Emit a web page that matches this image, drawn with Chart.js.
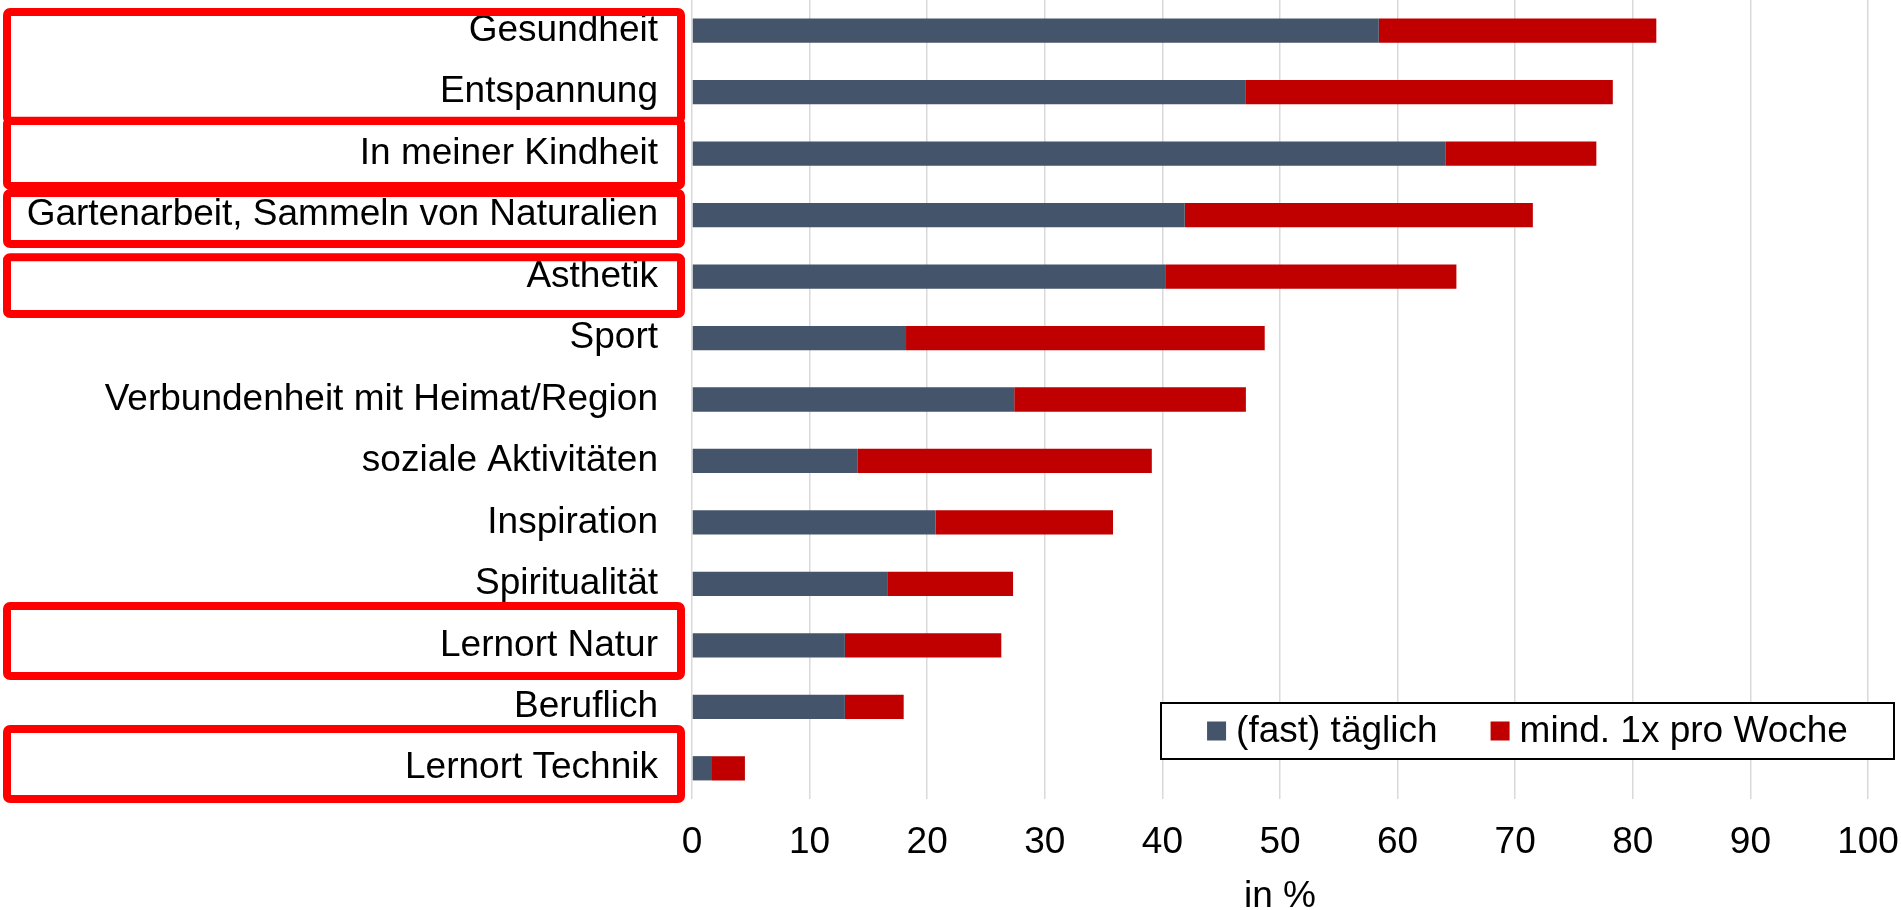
<!DOCTYPE html>
<html lang="de">
<head>
<meta charset="utf-8">
<title>Motive Naturbesuch</title>
<script src="https://cdn.jsdelivr.net/npm/chart.js@4.4.1/dist/chart.umd.min.js"></script>
<style>
    html, body { margin: 0; padding: 0; background: #ffffff; overflow: hidden; }
    #wrap { position: relative; width: 1901px; height: 910px; }
</style>
</head>
<body>
<div id="wrap"><canvas id="chart-motive"></canvas></div>
<script>
// Kategorien (von oben nach unten)
const categories = [
    "Gesundheit",
    "Entspannung",
    "In meiner Kindheit",
    "Gartenarbeit, Sammeln von Naturalien",
    "Asthetik",
    "Sport",
    "Verbundenheit mit Heimat/Region",
    "soziale Aktivitäten",
    "Inspiration",
    "Spiritualität",
    "Lernort Natur",
    "Beruflich",
    "Lernort Technik"
];

// Anteile in %
const dailyValues  = [58.4, 47.1, 64.1, 41.9, 40.3, 18.2, 27.4, 14.1, 20.7, 16.6, 13.0, 13.0, 1.7];
const weeklyValues = [23.6, 31.2, 12.8, 29.6, 24.7, 30.5, 19.7, 25.0, 15.1, 10.7, 13.3, 5.0, 2.8];

const seriesLabels = ["(fast) täglich", "mind. 1x pro Woche"];
const xTickValues = [0, 10, 20, 30, 40, 50, 60, 70, 80, 90, 100];
const axisTitle = "in %";

const FONT = "'Liberation Sans', Arial, sans-serif";
const FONT_SIZE = 37;
const colorDaily = "#44546A";
const colorWeekly = "#C00000";

// Rote Markierungen um einzelne Beschriftungen
const highlightPlugin = {
    id: "highlights",
    afterDraw(chart, args, opts) {
        const ctx = chart.ctx;
        const y = chart.scales.y;
        const band = (y.bottom - y.top) / categories.length;
        const lw = opts.lineWidth;
        const left = opts.left;
        const right = chart.chartArea.left - opts.gapRight;
        ctx.save();
        ctx.strokeStyle = opts.color;
        ctx.lineWidth = lw;
        ctx.lineJoin = "round";
        opts.boxes.forEach(b => {
            const top = y.getPixelForValue(categories.indexOf(b.from)) + b.top * band;
            const bottom = y.getPixelForValue(categories.indexOf(b.to)) + b.bottom * band;
            ctx.beginPath();
            ctx.roundRect(left + lw / 2, top + lw / 2, right - left - lw, bottom - top - lw, 3);
            ctx.stroke();
        });
        ctx.restore();
    }
};

// Legende mit Rahmen innerhalb der Zeichenfläche
const boxLegendPlugin = {
    id: "boxLegend",
    afterDatasetsDraw(chart, args, opts) {
        const ctx = chart.ctx;
        const area = chart.chartArea;
        ctx.save();
        ctx.font = `${FONT_SIZE}px ${FONT}`;
        const items = chart.data.datasets.map(ds => ({
            label: ds.label,
            color: ds.backgroundColor,
            width: ctx.measureText(ds.label).width
        }));
        const box = opts.boxSize;
        const contentW = items.reduce((s, it) => s + box + opts.textGap + it.width, 0) + opts.itemGap * (items.length - 1);
        const right = area.right + opts.overRight;
        const left = right - opts.width;
        const bottom = area.bottom - opts.aboveBottom;
        const top = bottom - opts.height;

        ctx.fillStyle = "#ffffff";
        ctx.fillRect(left, top, right - left, bottom - top);
        ctx.strokeStyle = "#000000";
        ctx.lineWidth = 2;
        ctx.strokeRect(left, top, right - left, bottom - top);

        let x = left + (right - left - contentW) / 2;
        const cy = (top + bottom) / 2;
        ctx.textBaseline = "middle";
        ctx.textAlign = "left";
        items.forEach(it => {
            ctx.fillStyle = it.color;
            ctx.fillRect(x, cy - box / 2, box, box);
            x += box + opts.textGap;
            ctx.fillStyle = "#000000";
            ctx.fillText(it.label, x, cy + 1);
            x += it.width + opts.itemGap;
        });
        ctx.restore();
    }
};

const ctx = document.getElementById("chart-motive").getContext("2d");
new Chart(ctx, {
    type: "bar",
    data: {
        labels: categories,
        datasets: [
            {
                label: seriesLabels[0],
                data: dailyValues,
                backgroundColor: colorDaily,
                borderWidth: 0,
                categoryPercentage: 1.0,
                barPercentage: 0.395
            },
            {
                label: seriesLabels[1],
                data: weeklyValues,
                backgroundColor: colorWeekly,
                borderWidth: 0,
                categoryPercentage: 1.0,
                barPercentage: 0.395
            }
        ]
    },
    options: {
        indexAxis: "y",
        responsive: true,
        maintainAspectRatio: false,
        animation: false,
        layout: {
            autoPadding: false,
            padding: { top: 0, right: 33, bottom: 0, left: 0 }
        },
        plugins: {
            legend: { display: false },
            tooltip: { enabled: false },
            highlights: {
                color: "#FF0000",
                lineWidth: 8,
                left: 3,
                gapRight: 7,
                boxes: [
                    { from: "Gesundheit", to: "Entspannung", top: -0.37, bottom: 0.53 },
                    { from: "In meiner Kindheit", to: "In meiner Kindheit", top: -0.595, bottom: 0.59 },
                    { from: "Gartenarbeit, Sammeln von Naturalien", to: "Gartenarbeit, Sammeln von Naturalien", top: -0.425, bottom: 0.535 },
                    { from: "Asthetik", to: "Asthetik", top: -0.38, bottom: 0.675 },
                    { from: "Lernort Natur", to: "Lernort Natur", top: -0.705, bottom: 0.565 },
                    { from: "Lernort Technik", to: "Lernort Technik", top: -0.705, bottom: 0.565 }
                ]
            },
            boxLegend: {
                boxSize: 19,
                textGap: 10,
                itemGap: 53,
                width: 733,
                height: 56,
                overRight: 26,
                aboveBottom: 40
            }
        },
        scales: {
            x: {
                stacked: true,
                min: 0,
                max: 100,
                afterBuildTicks: scale => {
                    scale.ticks = xTickValues.map(v => ({ value: v }));
                },
                afterFit: scale => {
                    // feste Höhe, keine zusätzliche Randpolsterung durch die Beschriftungen
                    scale.height = 111;
                    scale.paddingLeft = 0;
                    scale.paddingRight = 0;
                },
                grid: {
                    color: "#D9D9D9",
                    lineWidth: 1.5,
                    drawTicks: false
                },
                border: { display: false },
                ticks: {
                    color: "#000000",
                    padding: 22,
                    maxRotation: 0,
                    font: { family: FONT, size: FONT_SIZE }
                },
                title: {
                    display: true,
                    text: axisTitle,
                    color: "#000000",
                    padding: { top: 0, bottom: -9 },
                    font: { family: FONT, size: FONT_SIZE }
                }
            },
            y: {
                stacked: true,
                afterFit: scale => {
                    scale.width = 692;
                    scale.paddingTop = 0;
                    scale.paddingBottom = 0;
                },
                grid: { display: false, drawTicks: false },
                border: { display: false },
                ticks: {
                    color: "#000000",
                    padding: 34,
                    autoSkip: false,
                    font: { family: FONT, size: FONT_SIZE }
                }
            }
        }
    },
    plugins: [highlightPlugin, boxLegendPlugin]
});
</script>
</body>
</html>
